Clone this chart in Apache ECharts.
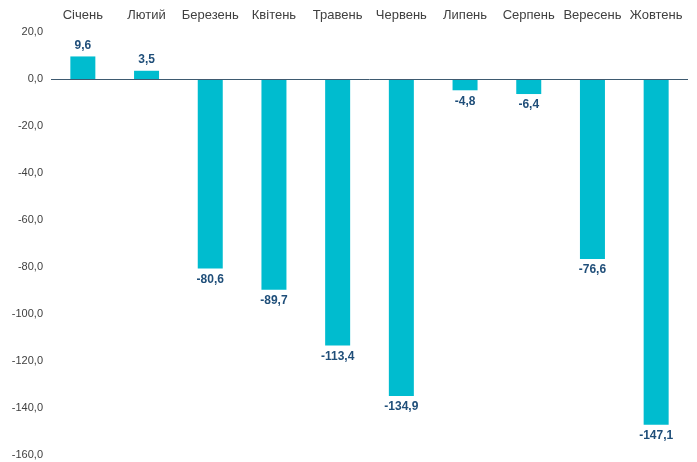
<!DOCTYPE html>
<html>
<head>
<meta charset="utf-8">
<script src="https://cdn.jsdelivr.net/npm/echarts@6/dist/echarts.min.js"></script>
<style>
html,body{margin:0;padding:0;background:#fff;}
#chart{width:697px;height:462px;}
</style>
</head>
<body>
<div id="chart"></div>
<script>
const categories = ['Січень','Лютий','Березень','Квітень','Травень','Червень','Липень','Серпень','Вересень','Жовтень'];
const values = [9.6, 3.5, -80.6, -89.7, -113.4, -134.9, -4.8, -6.4, -76.6, -147.1];

const fmt = v => v.toFixed(1).replace('.', ',');

const chart = echarts.init(document.getElementById('chart'));
chart.setOption({
  animation: false,
  grid: {left: 51, right: 9, top: 32, bottom: 7, containLabel: false},
  xAxis: {
    type: 'category',
    data: categories,
    position: 'top',
    axisLine: {show: false},
    axisTick: {show: false},
    axisLabel: {color: '#404040', fontSize: 13, fontFamily: 'Liberation Sans, Arial, sans-serif', margin: 10, interval: 0}
  },
  yAxis: {
    type: 'value',
    min: -160, max: 20, interval: 20,
    axisLine: {show: false},
    axisTick: {show: false},
    splitLine: {show: false},
    axisLabel: {color: '#404040', fontSize: 11, fontFamily: 'Liberation Sans, Arial, sans-serif', margin: 8, formatter: v => fmt(v)}
  },
  series: [{
    type: 'bar',
    barWidth: 25,
    itemStyle: {color: '#00BCCF'},
    data: values.map(v => ({
      value: v,
      label: {position: v >= 0 ? 'top' : 'bottom'}
    })),
    label: {
      show: true,
      distance: 5,
      color: '#1F4E79',
      fontWeight: 'bold',
      fontSize: 12,
      fontFamily: 'Liberation Sans, Arial, sans-serif',
      formatter: p => fmt(p.value)
    },
    markLine: {
      silent: true,
      symbol: 'none',
      label: {show: false},
      lineStyle: {color: '#3e5a70', width: 1, type: 'solid'},
      data: [{yAxis: 0}]
    }
  }]
});
</script>
</body>
</html>
